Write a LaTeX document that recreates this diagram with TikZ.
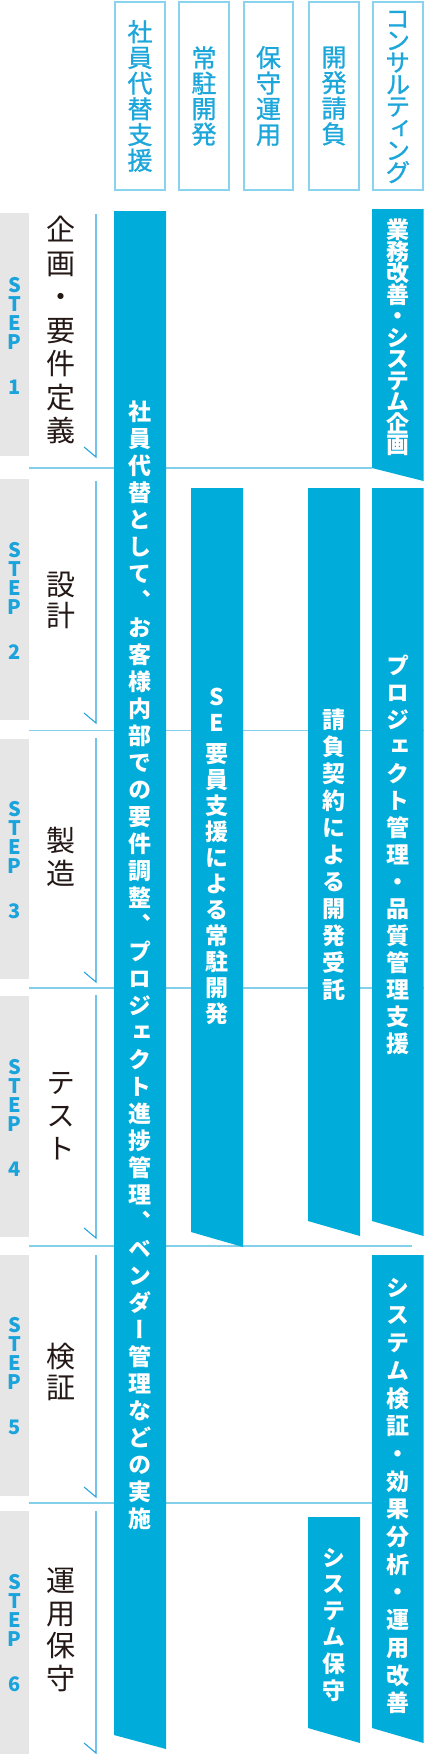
\documentclass[tikz,border=0pt]{standalone}
\usepackage{fontspec}
\setmainfont{Noto Sans CJK JP}
\newfontfamily\jpv[RawFeature=+vert]{Noto Sans CJK JP}
\newfontfamily\jpvh[RawFeature=+vert,FakeBold=1]{Noto Sans CJK JP}
\definecolor{barc}{HTML}{00ACD9}
\definecolor{hdrline}{HTML}{8AD3EE}
\definecolor{hdrtxt}{HTML}{1CA6DA}
\definecolor{sepc}{HTML}{84CFEA}
\definecolor{brkc}{HTML}{27A5DD}
\definecolor{stepc}{HTML}{1BA3DC}
\definecolor{graybg}{HTML}{E6E6E6}
\definecolor{lbltxt}{HTML}{231815}
\def\vtend{VTEND}
\def\vsep{VSEP}
\newdimen\vsepamt \vsepamt=5pt
\def\vtloop#1{\ifx#1\vtend\else\ifx#1\vsep\vskip\vsepamt\relax\else\hbox to 0pt{\hss#1\hss}\fi\expandafter\vtloop\fi}
\newcommand\vt[2]{\vbox{\baselineskip=#1\lineskip=0pt\lineskiplimit=-1000pt\vtloop#2\vtend}}
\newcommand\steplbl[1]{\vbox{\baselineskip=19pt\lineskip=0pt\lineskiplimit=-1000pt
  \hbox to 0pt{\hss S\hss}\hbox to 0pt{\hss T\hss}\hbox to 0pt{\hss E\hss}\hbox to 0pt{\hss P\hss}%
  \baselineskip=45pt\hbox to 0pt{\hss #1\hss}}}
\begin{document}
\begin{tikzpicture}[x=1pt,y=-1pt,
  hdrbox/.style={draw=hdrline,line width=2pt},
  hdrtext/.style={inner sep=0pt,text=hdrtxt,font=\jpvh\fontsize{25}{25}\selectfont},
  bar/.style={fill=barc,draw=none},
  bartext/.style={inner sep=0pt,text=white,font=\jpv\bfseries\fontsize{23}{23}\selectfont},
  graybox/.style={fill=graybg,draw=none},
  steptext/.style={inner sep=0pt,text=stepc,font=\bfseries\fontsize{20}{20}\selectfont},
  lbltext/.style={inner sep=0pt,text=lbltxt,font=\jpv\fontsize{29}{29}\selectfont},
  sepline/.style={draw=sepc,line width=1.2pt},
  bracket/.style={draw=brkc,line width=1.1pt}]
\useasboundingbox (0,0) rectangle (424,1754);
% headers
\draw[hdrbox] (115,2) rectangle (165,190);
\draw[hdrbox] (179,2) rectangle (229,190);
\draw[hdrbox] (244,2) rectangle (293,190);
\draw[hdrbox] (309,2) rectangle (359,190);
\draw[hdrbox] (373,2) rectangle (422.5,190);
\node[hdrtext] (h1) at (140,96) {\vt{25.7pt}{社員代替支援}};
\node[hdrtext] (h2) at (204,96) {\vt{25.4pt}{常駐開発}};
\node[hdrtext] (h3) at (268.5,96) {\vt{25.6pt}{保守運用}};
\node[hdrtext] (h4) at (334,96) {\vt{25.6pt}{開発請負}};
\node[hdrtext] (h5) at (397.7,97) {\vt{22pt}{コンサルティング}};
% step gray boxes
\fill[graybox] (0,213) rectangle (29,456);
\fill[graybox] (0,479) rectangle (29,720);
\fill[graybox] (0,739) rectangle (29,979);
\fill[graybox] (0,996) rectangle (29,1237);
\fill[graybox] (0,1255) rectangle (29,1496);
\fill[graybox] (0,1511) rectangle (29,1754);
\node[steptext] (s1) at (14.5,336) {\steplbl{1}};
\node[steptext] (s2) at (14.5,600.5) {\steplbl{2}};
\node[steptext] (s3) at (14.5,860) {\steplbl{3}};
\node[steptext] (s4) at (14.5,1117.5) {\steplbl{4}};
\node[steptext] (s5) at (14.5,1376.5) {\steplbl{5}};
\node[steptext] (s6) at (14.5,1633.5) {\steplbl{6}};
% labels
\node[lbltext] (l1) at (61,330) {\vt{33.5pt}{企画・要件定義}};
\node[lbltext] (l2) at (61,600) {\vt{31pt}{設計}};
\node[lbltext] (l3) at (61,857) {\vt{33pt}{製造}};
\node[lbltext] (l4) at (61,1116) {\vt{33pt}{テスト}};
\node[lbltext] (l5) at (61,1372) {\vt{31pt}{検証}};
\node[lbltext] (l6) at (61,1630) {\vt{32.5pt}{運用保守}};
% brackets
\draw[bracket] (96,214) -- (96,457) -- (84,447);
\draw[bracket] (96,481) -- (96,723) -- (84,713);
\draw[bracket] (96,738) -- (96,982) -- (84,972);
\draw[bracket] (96,995) -- (96,1238) -- (84,1228);
\draw[bracket] (96,1255) -- (96,1497) -- (84,1487);
\draw[bracket] (96,1511) -- (96,1753) -- (84,1743);
% separators
\draw[sepline] (29,468) -- (372,468);
\draw[sepline] (29,730.5) -- (424,730.5);
\draw[sepline] (29,988) -- (424,988);
\draw[sepline] (29,1246) -- (412,1246);
\draw[sepline] (29,1503) -- (372,1503);
% bars
\fill[bar] (114,211) -- (166,211) -- (166,1749) -- (114,1735) -- cycle;
\fill[bar] (372,209) -- (423.5,209) -- (423.5,481) -- (372,468) -- cycle;
\fill[bar] (191,488) -- (243,488) -- (243,1247) -- (191,1232) -- cycle;
\fill[bar] (308,488) -- (360,488) -- (360,1236) -- (308,1221) -- cycle;
\fill[bar] (372,488) -- (423.5,488) -- (423.5,1236) -- (372,1221) -- cycle;
\fill[bar] (372,1255) -- (423.5,1255) -- (423.5,1743) -- (372,1728) -- cycle;
\fill[bar] (308,1517) -- (360,1517) -- (360,1743) -- (308,1728) -- cycle;
% bar texts
\node[bartext] (t1) at (140,965) {\vt{27pt}{社員代替として、お客様内部での要件調整、プロジェクト進捗管理、ベンダー管理などの実施}};
\node[bartext] (t2) at (397.7,337.5) {\vt{21.5pt}{業務改善・システム企画}};
\node[bartext] (t3) at (217,856) {\vt{26pt}{SE\vsep 要員支援による常駐開発}};
\node[bartext] (t4) at (334,855) {\vt{27pt}{請負契約による開発受託}};
\node[bartext] (t5) at (397.7,855) {\vt{27pt}{プロジェクト管理・品質管理支援}};
\node[bartext] (t6) at (397.7,1496) {\vt{27.7pt}{システム検証・効果分析・運用改善}};
\node[bartext] (t7) at (334,1624.5) {\vt{26.6pt}{システム保守}};
\end{tikzpicture}
\end{document}
